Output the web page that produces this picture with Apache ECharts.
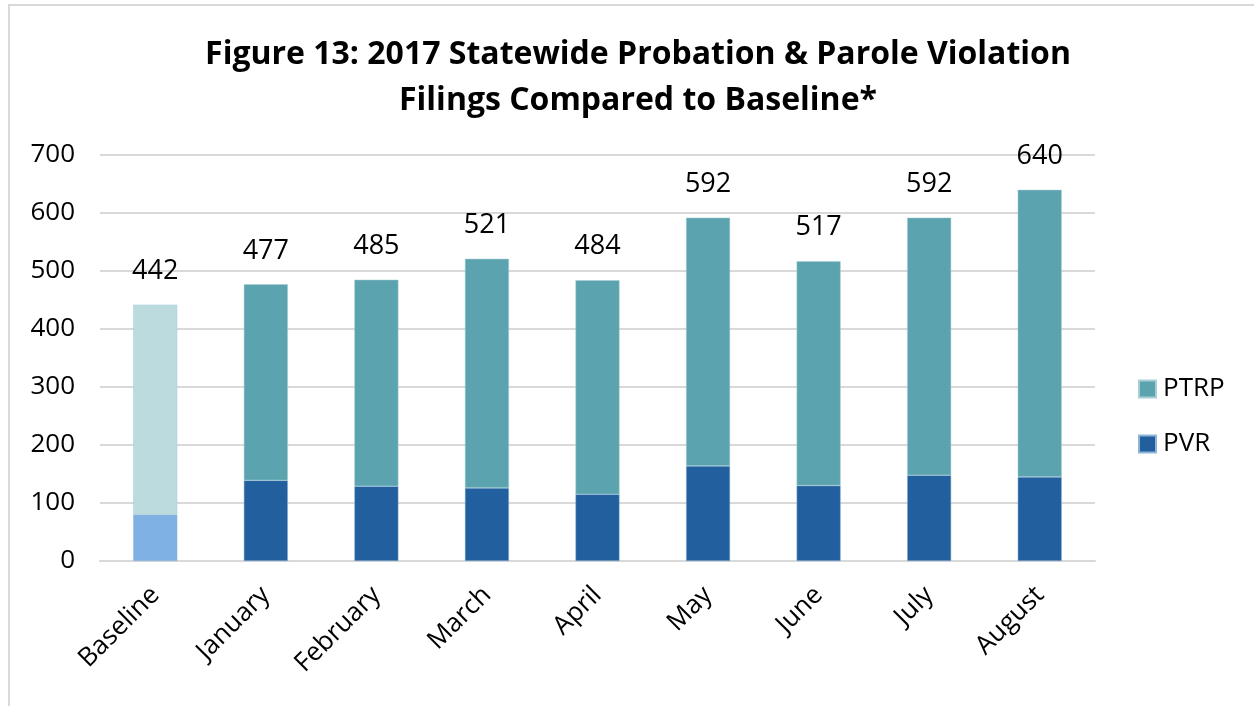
<!DOCTYPE html>
<html>
<head>
<meta charset="utf-8">
<script src="https://cdn.jsdelivr.net/npm/echarts@6/dist/echarts.min.js"></script>
<style>
  html, body { margin: 0; padding: 0; background: #fff; }
  #frame { position: absolute; left: 8px; top: 4px; width: 1260px; height: 720px; border: 2px solid #d9d9d9; box-sizing: border-box; }
  #chart { position: absolute; left: 0; top: 0; width: 1254px; height: 706px; }
</style>
</head>
<body>
<div id="frame"></div>
<div id="chart"></div>
<script>
// categories and values
const categories = ['Baseline', 'January', 'February', 'March', 'April', 'May', 'June', 'July', 'August'];
const pvr = [80, 139, 129, 126, 115, 164, 130, 148, 145];
const ptrp = [362, 338, 356, 395, 369, 428, 387, 444, 495];
const totals = [442, 477, 485, 521, 484, 592, 517, 592, 640];
const yTicks = [0, 100, 200, 300, 400, 500, 600, 700];

const font = '"Open Sans", "Noto Sans", sans-serif';

// baseline bar uses lighter shades
const pvrData = pvr.map((v, i) => i === 0 ? {value: v, itemStyle: {color: '#7fb1e4'}} : v);
const ptrpData = ptrp.map((v, i) => i === 0 ? {value: v, itemStyle: {color: '#bcdbdf'}} : v);

const myChart = echarts.init(document.getElementById('chart'));
const option = {
  animation: false,
  title: {
    text: 'Figure 13: 2017 Statewide Probation & Parole Violation\nFilings Compared to Baseline*',
    left: 633,
    textAlign: 'center',
    top: 27,
    textStyle: {
      fontFamily: font,
      fontWeight: 'bold',
      fontSize: 32,
      lineHeight: 46,
      color: '#000'
    }
  },
  legend: {
    orient: 'vertical',
    left: 1133,
    top: 371,
    itemWidth: 17,
    itemHeight: 17,
    itemGap: 29,
    icon: 'rect',
    data: ['PTRP', 'PVR'],
    textStyle: {fontFamily: font, fontSize: 26, color: '#000', padding: [0, 0, 0, 2]}
  },
  grid: {
    left: 100,
    right: 159,
    top: 155,
    bottom: 145,
    containLabel: false
  },
  xAxis: {
    type: 'category',
    data: categories,
    axisTick: {show: false},
    axisLine: {lineStyle: {color: '#d9d9d9', width: 2}},
    axisLabel: {
      rotate: 45,
      interval: 0,
      margin: 30,
      fontFamily: font,
      fontSize: 26,
      color: '#000'
    }
  },
  yAxis: {
    type: 'value',
    min: yTicks[0],
    max: yTicks[yTicks.length - 1],
    interval: 100,
    axisLine: {show: false},
    axisTick: {show: false},
    splitLine: {lineStyle: {color: '#d9d9d9', width: 2}},
    axisLabel: {
      margin: 25,
      fontFamily: font,
      fontSize: 26,
      color: '#000'
    }
  },
  series: [
    {
      name: 'PVR',
      type: 'bar',
      stack: 'total',
      barWidth: 44,
      data: pvrData,
      itemStyle: {color: '#215f9e', borderColor: '#8fb5d5', borderWidth: 0.5}
    },
    {
      name: 'PTRP',
      type: 'bar',
      stack: 'total',
      barWidth: 44,
      data: ptrpData,
      itemStyle: {color: '#5ba3ae', borderColor: '#a9cfd5', borderWidth: 0.5},
      label: {
        show: true,
        position: 'top',
        distance: 20,
        fontFamily: font,
        fontSize: 27,
        color: '#000',
        formatter: (p) => totals[p.dataIndex]
      }
    }
  ]
};
myChart.setOption(option);
</script>
</body>
</html>
